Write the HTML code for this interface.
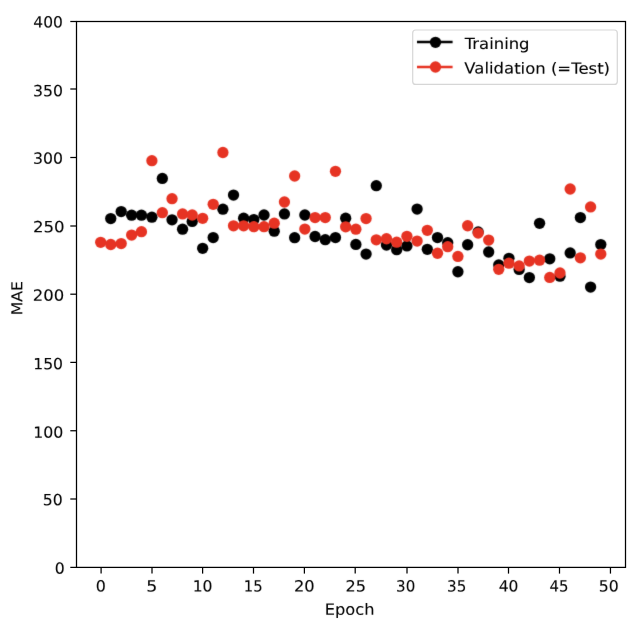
<!DOCTYPE html>
<html><head><meta charset="utf-8"><title>MAE</title>
<style>
html,body{margin:0;padding:0;background:#fff;}
svg{display:block;}
text{font-family:"DejaVu Sans","Liberation Sans",sans-serif;fill:#000;stroke:#000;stroke-width:0.1px;}
</style></head><body>
<svg width="642" height="630" viewBox="0 0 642 630">
<defs><filter id="soft" x="-5%" y="-5%" width="110%" height="110%" color-interpolation-filters="sRGB"><feConvolveMatrix order="3" kernelMatrix="0.01832 0.13534 0.01832 0.13534 1.00000 0.13534 0.01832 0.13534 0.01832" edgeMode="none" preserveAlpha="false"/></filter><filter id="softt" x="-5%" y="-5%" width="110%" height="110%" color-interpolation-filters="sRGB"><feConvolveMatrix order="3" kernelMatrix="0.00193 0.04394 0.00193 0.04394 1.00000 0.04394 0.00193 0.04394 0.00193" edgeMode="none" preserveAlpha="false"/></filter></defs>
<rect width="642" height="630" fill="#fff"/>

<g filter="url(#soft)">
<g fill="#000">
<circle cx="110.76" cy="218.55" r="5.65"/>
<circle cx="121.19" cy="211.55" r="5.65"/>
<circle cx="131.63" cy="215.20" r="5.65"/>
<circle cx="141.45" cy="215.20" r="5.65"/>
<circle cx="151.89" cy="217.20" r="5.65"/>
<circle cx="162.34" cy="178.40" r="5.65"/>
<circle cx="172.04" cy="219.80" r="5.65"/>
<circle cx="182.57" cy="229.20" r="5.65"/>
<circle cx="192.21" cy="221.40" r="5.65"/>
<circle cx="202.66" cy="248.30" r="5.65"/>
<circle cx="213.18" cy="237.55" r="5.65"/>
<circle cx="222.91" cy="209.15" r="5.65"/>
<circle cx="233.52" cy="195.10" r="5.65"/>
<circle cx="243.62" cy="218.15" r="5.65"/>
<circle cx="253.82" cy="219.55" r="5.65"/>
<circle cx="264.03" cy="215.00" r="5.65"/>
<circle cx="274.24" cy="231.20" r="5.65"/>
<circle cx="284.44" cy="213.90" r="5.65"/>
<circle cx="294.64" cy="237.65" r="5.65"/>
<circle cx="304.85" cy="215.00" r="5.65"/>
<circle cx="315.06" cy="236.50" r="5.65"/>
<circle cx="325.26" cy="239.70" r="5.65"/>
<circle cx="335.47" cy="237.60" r="5.65"/>
<circle cx="345.67" cy="218.15" r="5.65"/>
<circle cx="355.88" cy="244.40" r="5.65"/>
<circle cx="366.08" cy="254.05" r="5.65"/>
<circle cx="376.29" cy="185.65" r="5.65"/>
<circle cx="386.49" cy="245.10" r="5.65"/>
<circle cx="396.69" cy="249.70" r="5.65"/>
<circle cx="406.90" cy="245.95" r="5.65"/>
<circle cx="417.11" cy="209.10" r="5.65"/>
<circle cx="427.31" cy="249.30" r="5.65"/>
<circle cx="437.51" cy="237.60" r="5.65"/>
<circle cx="447.72" cy="242.75" r="5.65"/>
<circle cx="457.91" cy="271.75" r="5.65"/>
<circle cx="467.65" cy="244.75" r="5.65"/>
<circle cx="478.17" cy="231.95" r="5.65"/>
<circle cx="488.69" cy="252.00" r="5.65"/>
<circle cx="498.75" cy="264.95" r="5.65"/>
<circle cx="508.95" cy="258.30" r="5.65"/>
<circle cx="519.15" cy="269.40" r="5.65"/>
<circle cx="529.36" cy="277.60" r="5.65"/>
<circle cx="539.57" cy="223.30" r="5.65"/>
<circle cx="549.77" cy="258.85" r="5.65"/>
<circle cx="559.98" cy="276.15" r="5.65"/>
<circle cx="570.18" cy="252.95" r="5.65"/>
<circle cx="580.38" cy="217.55" r="5.65"/>
<circle cx="590.59" cy="287.10" r="5.65"/>
<circle cx="600.80" cy="244.60" r="5.65"/>
</g>
<g fill="#e63323">
<circle cx="100.67" cy="242.30" r="5.65"/>
<circle cx="110.76" cy="244.50" r="5.65"/>
<circle cx="121.19" cy="243.60" r="5.65"/>
<circle cx="131.63" cy="235.10" r="5.65"/>
<circle cx="141.45" cy="231.70" r="5.65"/>
<circle cx="151.89" cy="160.70" r="5.65"/>
<circle cx="162.34" cy="212.70" r="5.65"/>
<circle cx="172.04" cy="198.65" r="5.65"/>
<circle cx="182.57" cy="213.90" r="5.65"/>
<circle cx="192.21" cy="215.00" r="5.65"/>
<circle cx="202.66" cy="218.30" r="5.65"/>
<circle cx="213.18" cy="204.35" r="5.65"/>
<circle cx="222.91" cy="152.50" r="5.65"/>
<circle cx="233.52" cy="225.80" r="5.65"/>
<circle cx="243.62" cy="225.80" r="5.65"/>
<circle cx="253.82" cy="226.70" r="5.65"/>
<circle cx="264.03" cy="226.70" r="5.65"/>
<circle cx="274.24" cy="223.20" r="5.65"/>
<circle cx="284.44" cy="202.00" r="5.65"/>
<circle cx="294.64" cy="176.00" r="5.65"/>
<circle cx="304.85" cy="229.10" r="5.65"/>
<circle cx="315.06" cy="217.55" r="5.65"/>
<circle cx="325.26" cy="217.55" r="5.65"/>
<circle cx="335.47" cy="171.30" r="5.65"/>
<circle cx="345.67" cy="226.80" r="5.65"/>
<circle cx="355.88" cy="229.20" r="5.65"/>
<circle cx="366.08" cy="218.60" r="5.65"/>
<circle cx="376.29" cy="239.80" r="5.65"/>
<circle cx="386.49" cy="238.75" r="5.65"/>
<circle cx="396.69" cy="242.20" r="5.65"/>
<circle cx="406.90" cy="236.30" r="5.65"/>
<circle cx="417.11" cy="241.10" r="5.65"/>
<circle cx="427.31" cy="230.30" r="5.65"/>
<circle cx="437.51" cy="253.25" r="5.65"/>
<circle cx="447.72" cy="246.65" r="5.65"/>
<circle cx="457.91" cy="256.40" r="5.65"/>
<circle cx="467.65" cy="225.75" r="5.65"/>
<circle cx="478.17" cy="233.10" r="5.65"/>
<circle cx="488.69" cy="240.10" r="5.65"/>
<circle cx="498.75" cy="269.30" r="5.65"/>
<circle cx="508.95" cy="263.20" r="5.65"/>
<circle cx="519.15" cy="265.90" r="5.65"/>
<circle cx="529.36" cy="261.10" r="5.65"/>
<circle cx="539.57" cy="260.20" r="5.65"/>
<circle cx="549.77" cy="277.40" r="5.65"/>
<circle cx="559.98" cy="273.00" r="5.65"/>
<circle cx="570.18" cy="189.00" r="5.65"/>
<circle cx="580.38" cy="257.80" r="5.65"/>
<circle cx="590.59" cy="206.90" r="5.65"/>
<circle cx="600.80" cy="254.10" r="5.65"/>
</g>
</g>
<rect x="76.5" y="21.5" width="549.0" height="545.9" fill="none" stroke="#000" stroke-width="1.25"/>
<g stroke="#000" stroke-width="1.25">
<line x1="101.10" y1="567.4" x2="101.10" y2="573.6"/>
<line x1="152.00" y1="567.4" x2="152.00" y2="573.6"/>
<line x1="202.60" y1="567.4" x2="202.60" y2="573.6"/>
<line x1="253.50" y1="567.4" x2="253.50" y2="573.6"/>
<line x1="304.40" y1="567.4" x2="304.40" y2="573.6"/>
<line x1="355.20" y1="567.4" x2="355.20" y2="573.6"/>
<line x1="407.00" y1="567.4" x2="407.00" y2="573.6"/>
<line x1="458.00" y1="567.4" x2="458.00" y2="573.6"/>
<line x1="508.50" y1="567.4" x2="508.50" y2="573.6"/>
<line x1="559.50" y1="567.4" x2="559.50" y2="573.6"/>
<line x1="610.45" y1="567.4" x2="610.45" y2="573.6"/>
<line x1="76.5" y1="567.40" x2="70.3" y2="567.40"/>
<line x1="76.5" y1="499.00" x2="70.3" y2="499.00"/>
<line x1="76.5" y1="430.75" x2="70.3" y2="430.75"/>
<line x1="76.5" y1="362.40" x2="70.3" y2="362.40"/>
<line x1="76.5" y1="294.20" x2="70.3" y2="294.20"/>
<line x1="76.5" y1="226.00" x2="70.3" y2="226.00"/>
<line x1="76.5" y1="157.50" x2="70.3" y2="157.50"/>
<line x1="76.5" y1="89.00" x2="70.3" y2="89.00"/>
<line x1="76.5" y1="21.50" x2="70.3" y2="21.50"/>
</g>
<g>
<g filter="url(#softt)"><text transform="translate(33.34,27.56) rotate(0.03) scale(1.0032,1)" font-size="15.4">400</text></g>
<g filter="url(#softt)"><text transform="translate(33.11,96.31) rotate(0.03) scale(1.0185,1)" font-size="15.4">350</text></g>
<g filter="url(#softt)"><text transform="translate(33.11,163.71) rotate(0.03) scale(1.0185,1)" font-size="15.4">300</text></g>
<g filter="url(#softt)"><text transform="translate(32.89,232.31) rotate(0.03) scale(1.0755,1)" font-size="15.4">250</text></g>
<g filter="url(#softt)"><text transform="translate(32.80,300.76) rotate(0.03) scale(1.0682,1)" font-size="15.4">200</text></g>
<g filter="url(#softt)"><text transform="translate(33.18,369.21) rotate(0.03) scale(1.0160,1)" font-size="15.4">150</text></g>
<g filter="url(#softt)"><text transform="translate(33.17,437.71) rotate(0.03) scale(1.0235,1)" font-size="15.4">100</text></g>
<g filter="url(#softt)"><text transform="translate(42.79,505.21) rotate(0.03) scale(1.0180,1)" font-size="15.4">50</text></g>
<g filter="url(#softt)"><text transform="translate(54.77,573.71) rotate(0.03) scale(1.0178,1)" font-size="15.4">0</text></g>
<g filter="url(#softt)"><text transform="translate(95.75,591.40) rotate(0.03) scale(1.0307,1)" font-size="15.4">0</text></g>
<g filter="url(#softt)"><text transform="translate(146.36,591.40) rotate(0.03) scale(1.1281,1)" font-size="15.4">5</text></g>
<g filter="url(#softt)"><text transform="translate(192.68,591.40) rotate(0.03) scale(1.0131,1)" font-size="15.4">10</text></g>
<g filter="url(#softt)"><text transform="translate(243.87,591.40) rotate(0.03) scale(0.9604,1)" font-size="15.4">15</text></g>
<g filter="url(#softt)"><text transform="translate(294.01,591.40) rotate(0.03) scale(1.0546,1)" font-size="15.4">20</text></g>
<g filter="url(#softt)"><text transform="translate(345.42,591.40) rotate(0.03) scale(1.0453,1)" font-size="15.4">25</text></g>
<g filter="url(#softt)"><text transform="translate(396.06,591.40) rotate(0.03) scale(0.9769,1)" font-size="15.4">30</text></g>
<g filter="url(#softt)"><text transform="translate(447.05,591.40) rotate(0.03) scale(0.9837,1)" font-size="15.4">35</text></g>
<g filter="url(#softt)"><text transform="translate(498.64,591.40) rotate(0.03) scale(1.0046,1)" font-size="15.4">40</text></g>
<g filter="url(#softt)"><text transform="translate(549.47,591.40) rotate(0.03) scale(0.9660,1)" font-size="15.4">45</text></g>
<g filter="url(#softt)"><text transform="translate(598.79,591.40) rotate(0.03) scale(1.0180,1)" font-size="15.4">50</text></g>
<g filter="url(#softt)"><text transform="translate(324.71,614.70) rotate(0.03) scale(1.0488,1)" font-size="15.5">Epoch</text></g>
<g filter="url(#softt)"><text transform="translate(22.3,315.14) rotate(-89.97) scale(1.0445,1)" font-size="15.0">MAE</text></g>
</g>
<rect x="412.7" y="30" width="204.6" height="54.4" rx="3" ry="3" fill="#fff" fill-opacity="0.8" stroke="#ccc" stroke-opacity="0.8" stroke-width="1.2"/>
<g filter="url(#soft)">
<line x1="417" y1="42.1" x2="452.6" y2="42.1" stroke="#000" stroke-width="2.5"/>
<circle cx="435.5" cy="42.3" r="5.65" fill="#000"/>
<line x1="417" y1="66.9" x2="452.6" y2="66.9" stroke="#e63323" stroke-width="2.5"/>
<circle cx="435.5" cy="67.0" r="5.65" fill="#e63323"/>
</g>
<g>
<g filter="url(#softt)"><text transform="translate(464.75,49.10) rotate(0.03) scale(1.0671,1)" font-size="15.4">Training</text></g>
<g filter="url(#softt)"><text transform="translate(464.37,73.60) rotate(0.03) scale(1.0703,1)" font-size="15.4">Validation (=Test)</text></g>
</g>
</svg></body></html>
